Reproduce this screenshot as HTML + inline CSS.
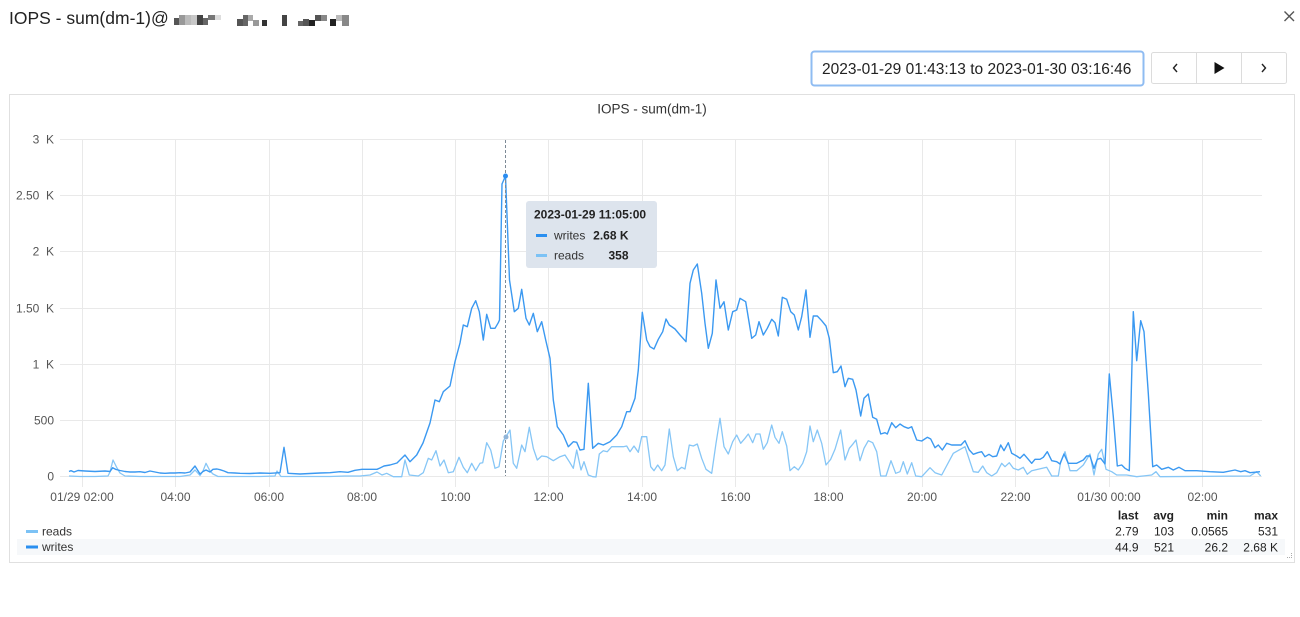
<!DOCTYPE html>
<html>
<head>
<meta charset="utf-8">
<style>
html,body{margin:0;padding:0;background:#fff;}
body{width:1300px;height:617px;overflow:hidden;position:relative;font-family:"Liberation Sans",Arial,sans-serif;}
svg{position:absolute;left:0;top:0;}
text{font-family:"Liberation Sans",Arial,sans-serif;}
</style>
</head>
<body>
<svg width="1300" height="617" viewBox="0 0 1300 617" xmlns="http://www.w3.org/2000/svg">
  <!-- header title -->
  <text x="9" y="24" font-size="17.5" fill="#222">IOPS - sum(dm-1)@</text>
  <!-- pixelated obfuscation blocks -->
  <g>
    <rect x="174" y="18" width="5" height="7" fill="#555"/>
    <rect x="179" y="15" width="6" height="10" fill="#999"/>
    <rect x="185" y="15" width="6" height="10" fill="#bbb"/>
    <rect x="191" y="15" width="6" height="10" fill="#c8c8c8"/>
    <rect x="197" y="15" width="6" height="10" fill="#444"/>
    <rect x="203" y="18" width="5" height="7" fill="#666"/>
    <rect x="208" y="15" width="7" height="5" fill="#777"/>
    <rect x="215" y="15" width="6" height="5" fill="#ddd"/>
    <rect x="237" y="19" width="6" height="7" fill="#555"/>
    <rect x="243" y="15" width="5" height="11" fill="#666"/>
    <rect x="248" y="15" width="5" height="6" fill="#aaa"/>
    <rect x="253" y="20" width="6" height="6" fill="#999"/>
    <rect x="262" y="20" width="5" height="6" fill="#333"/>
    <rect x="282" y="15" width="5" height="11" fill="#444"/>
    <rect x="298" y="21" width="5" height="5" fill="#666"/>
    <rect x="303" y="19" width="6" height="7" fill="#555"/>
    <rect x="309" y="20" width="6" height="6" fill="#222"/>
    <rect x="315" y="15" width="6" height="6" fill="#555"/>
    <rect x="321" y="15" width="6" height="6" fill="#888"/>
    <rect x="330" y="19" width="6" height="7" fill="#222"/>
    <rect x="336" y="15" width="6" height="6" fill="#bbb"/>
    <rect x="342" y="15" width="7" height="11" fill="#888"/>
  </g>
  <!-- close x -->
  <path d="M1284.5 11.5 L1294 21 M1294 11.5 L1284.5 21" stroke="#555" stroke-width="1.4"/>

  <!-- date input -->
  <rect x="811.5" y="51.5" width="332" height="34" rx="3" fill="#fff" stroke="#8fbcf2" stroke-width="2"/>
  <text x="822" y="74" font-size="15.5" fill="#222">2023-01-29 01:43:13 to 2023-01-30 03:16:46</text>
  <!-- buttons -->
  <rect x="1151.5" y="52.5" width="135" height="31" rx="2" fill="#fff" stroke="#dcdcdc"/>
  <line x1="1196.5" y1="52.5" x2="1196.5" y2="83.5" stroke="#dcdcdc"/>
  <line x1="1241.5" y1="52.5" x2="1241.5" y2="83.5" stroke="#dcdcdc"/>
  <path d="M1177 64 L1173.5 68 L1177 72" fill="none" stroke="#222" stroke-width="1.4"/>
  <path d="M1214.5 62 L1224.5 68 L1214.5 74 Z" fill="#111"/>
  <path d="M1262 64 L1265.5 68 L1262 72" fill="none" stroke="#222" stroke-width="1.4"/>

  <!-- panel -->
  <rect x="9.5" y="94.5" width="1285" height="468" fill="#fff" stroke="#e0e0e0"/>
  <text x="652" y="113.5" font-size="13.5" fill="#333" text-anchor="middle">IOPS - sum(dm-1)</text>

  <!-- grid -->
  <g stroke="#e9e9e9" stroke-width="1">
    <line x1="60" y1="139.5" x2="1262" y2="139.5"/>
    <line x1="60" y1="195.5" x2="1262" y2="195.5"/>
    <line x1="60" y1="251.5" x2="1262" y2="251.5"/>
    <line x1="60" y1="308.5" x2="1262" y2="308.5"/>
    <line x1="60" y1="364.5" x2="1262" y2="364.5"/>
    <line x1="60" y1="420.5" x2="1262" y2="420.5"/>
    <line x1="60" y1="476.5" x2="1262" y2="476.5"/>
    <line x1="82.5" y1="139" x2="82.5" y2="487"/>
    <line x1="175.5" y1="139" x2="175.5" y2="487"/>
    <line x1="269.5" y1="139" x2="269.5" y2="487"/>
    <line x1="362.5" y1="139" x2="362.5" y2="487"/>
    <line x1="455.5" y1="139" x2="455.5" y2="487"/>
    <line x1="548.5" y1="139" x2="548.5" y2="487"/>
    <line x1="642.5" y1="139" x2="642.5" y2="487"/>
    <line x1="735.5" y1="139" x2="735.5" y2="487"/>
    <line x1="828.5" y1="139" x2="828.5" y2="487"/>
    <line x1="922.5" y1="139" x2="922.5" y2="487"/>
    <line x1="1015.5" y1="139" x2="1015.5" y2="487"/>
    <line x1="1109.5" y1="139" x2="1109.5" y2="487"/>
    <line x1="1202.5" y1="139" x2="1202.5" y2="487"/>
  </g>

  <!-- y labels -->
  <g font-size="12" fill="#555" text-anchor="end">
    <text x="54" y="143.5">3&#160; K</text>
    <text x="54" y="199.5">2.50&#160; K</text>
    <text x="54" y="255.5">2&#160; K</text>
    <text x="54" y="312.5">1.50&#160; K</text>
    <text x="54" y="368.5">1&#160; K</text>
    <text x="54" y="424.5">500</text>
    <text x="54" y="480.5">0</text>
  </g>
  <!-- x labels -->
  <g font-size="12" fill="#555" text-anchor="middle">
    <text x="82" y="501">01/29 02:00</text>
    <text x="175.5" y="501">04:00</text>
    <text x="269" y="501">06:00</text>
    <text x="362" y="501">08:00</text>
    <text x="455.5" y="501">10:00</text>
    <text x="548.5" y="501">12:00</text>
    <text x="642" y="501">14:00</text>
    <text x="735.5" y="501">16:00</text>
    <text x="828.5" y="501">18:00</text>
    <text x="922" y="501">20:00</text>
    <text x="1015.5" y="501">22:00</text>
    <text x="1109" y="501">01/30 00:00</text>
    <text x="1202.5" y="501">02:00</text>
  </g>

  <!-- reads series -->
  <polyline fill="none" stroke="#86c6f6" stroke-width="1.3" stroke-linejoin="round" points="69,476 80,476.5 95,476.5 108,476 110,472 113,460 117,468 120,473 125,476 140,476.5 160,476.5 180,476.5 190,475 195,470 200,475.5 203,471 206,463.3 210,471 213,474 218,476.5 240,476.5 260,476.5 275,476 277,471 281,476.5 300,476.5 330,476.5 345,476 360,476 370,475 377,472 382,475 386.7,473.3 393.3,476.7 401.7,476.7 405,460 409.3,475 418.3,476 423.3,472.7 428.3,458.3 431.7,460 436,450.7 440,466 444,460 448.3,472.7 453.3,471.7 459,457.3 463.3,467.3 467.3,472.7 471.7,463.3 475.7,470.7 480,463.3 482.7,462.7 486.7,442.7 490.7,450 495,468.3 499,466.7 503.3,441 506,436.7 510,430 513.3,463.3 516.7,468.3 521.7,445 525,451.7 529.3,427.3 533.3,448.3 537.3,460 541.7,456 546.7,456.7 553.3,460.7 560,456.7 565,455 569.3,461.7 573.3,468.3 576.7,450 581,470 584,461.7 588.3,475 592.7,476.7 596,477 599.3,454 603.3,450.7 607.3,451.7 611.7,446.7 623.3,446.7 626.7,446 630,451.7 634,446 638.3,452.3 641.7,436.7 646.7,436.7 650.7,466.7 654,470.7 657.7,465 661.7,470.7 665,465 669.3,429 673.3,456.7 677.3,470.7 681.7,467.3 685,469 689.3,445 693.3,446 697.3,444 701.7,458.3 706,469.3 711.7,473.3 716,443.3 720,418.3 724,446.7 728.3,454 732.7,441.7 736.7,435 740.7,443.3 745,438.3 748.3,434 752.7,442.7 756,434 760,434 763.3,449.3 767.3,442.7 771.7,425 775,437.3 779,443.3 782.3,431.7 786.7,446 790,470.7 794.3,466.7 798.3,470 802.7,463.3 806.7,451.7 810,426 813.3,441.7 817.3,430 821.7,443.3 826,465 830.7,459.3 835,449.3 840.7,430 845,460 849.3,448.3 852.7,444.3 856,440 860,460.7 864,448.3 868.3,440.7 872.7,442.7 876.7,451.7 880.7,476 886,476 891,460.7 895.7,473.3 900,471.7 903.3,461.7 907.3,474 911.7,462.7 915.7,476 921.7,476.7 930,467.7 935,472.7 941.7,475 953.3,453.3 965,446.7 973.3,471.7 978.3,472.3 982.7,466 986.7,472.7 991.7,476 996.7,472.7 1001.7,463.3 1005,466.7 1009.3,462.7 1013.3,468.3 1018.3,470 1023.3,467.3 1027.3,474.3 1031.7,470.7 1046.7,467.3 1051.7,476 1058.3,476 1060.7,461.7 1065,451.7 1070,470.7 1076.7,470.7 1083.3,465 1090,454 1094,475 1098.3,454 1101.7,449.3 1106,469.3 1111.7,471.7 1116.7,475 1126.7,475 1136.7,476.7 1151.7,475 1156,471.7 1160,476.7 1250,476 1256.7,471.7 1260.7,476"/>

  <!-- writes series -->
  <polyline fill="none" stroke="#3b99f1" stroke-width="1.4" stroke-linejoin="round" points="69,471.5 71,470.7 74,472 78,470.5 85,471 95,471.5 105,471 110,471.5 112.7,467.7 116,469.5 120,470.5 125,471.5 130,472 135,472 140,471.7 145,472.5 150,471 155,472 160,473 165,473.3 170,473 175,473 180,472.7 185,473 190,472 195,466 200,474 203,471.5 206,470 210,472 213,469.3 217,469 220,469.7 224,471 228,472.7 235,473 240,473.3 250,473.5 260,473 270,473.3 280,472.7 284,447.3 288,473.3 300,474 310,473.5 320,473 330,472.7 340,471.7 348,472.3 355,470.3 362,469.3 370,469.3 377,469.3 380,468 384,466 390,465 397,463 405,455 410,461.7 416.7,455 423,443 430,423 435,400 439.3,401.7 443.3,391.7 450,386 455,361.7 460,343 463.3,325 467.3,326.7 471.7,308.3 475.7,300.7 479.3,311.7 483.3,340 486.7,314.3 490.7,328.3 495,328.3 498.3,322.7 499.5,320 502,184 505.5,176 509.5,280 514.3,311.7 518.3,308.3 521.7,289.3 526,318.3 529.3,325 533.3,313.3 537.3,331.7 541.7,321.7 545.7,340 550,358.3 553.3,400 557.3,426.7 563.3,435 568.3,446.7 573.3,441.7 576.7,442.3 580,450 584,449.3 588.3,383.3 592.7,448.3 598.3,443.3 603.3,445 610,441.7 616.7,435 621.7,426.7 626.7,411.7 630,411.7 635,398.3 638.3,370 642.3,312.3 646.7,340 650,346.7 654,349 658.3,339.3 662.7,331.7 666,319 669.3,325 675,329 680,335 686,341.7 690,283.3 693.3,270 697.3,264 701.7,293.3 705,323.3 708.3,348.3 712.3,333.3 716,280 720,308.3 724,301.7 728.3,330 732.7,311.7 736.7,310 740,298.3 745.7,301.7 751.7,338.3 755.7,335 759,321.7 763.3,335 767.3,328.3 771.7,319.3 775,322.7 778.3,336 782.3,297.3 786.7,299.3 790.7,311.7 794.3,315 798.3,330 801.7,316.7 806,290 810,337.3 813.3,316 817.3,316 821.7,320.7 826,326 829.3,338.3 833.3,372.7 837.3,371.7 841,366 845,386.7 848.3,378.3 852.7,379.3 856,390 860.7,416 864,398.3 868.3,394 872.7,417.3 876.7,419.3 880.7,434 885,432.7 887.3,434 891.7,422.7 895.7,427.7 900,424 904,426.7 908.3,428.3 911.7,426.7 916.7,440 921.7,441 927.3,437.3 930.7,439 935,447.7 938.3,445 942.3,450 946.7,443.3 951.7,445 956.7,445 961,445 965,440.7 969.3,450 973.3,454.3 977.7,452.7 981.7,451.7 985,456.7 989,454.3 992.7,456.7 996.7,456 1000.7,445 1004,450.7 1008.3,442.7 1011.7,453.3 1016.7,456 1020,458.3 1024,454.3 1028.3,459.3 1031.7,463.3 1035,459.3 1040,459.3 1043.3,457.3 1047.3,451.7 1051.7,460.7 1056.7,461.7 1060,464 1064,454 1068.3,463.3 1076.7,463.3 1083.3,460 1086.7,456 1090,456 1094,468.3 1097.3,459.3 1100.7,458.3 1105,464 1109.3,374 1113.3,416.7 1117.3,466 1121.7,465 1125,468.3 1129.3,470.7 1133.3,311.7 1136.7,360.7 1140.7,320.7 1144,331.7 1148.3,393.3 1152.7,466.7 1156.7,465 1161.7,469.3 1168.3,467.3 1173.3,470 1179,467.3 1185,470.7 1196.7,470.7 1210,471.7 1223.3,472.3 1235,470 1240.7,471.7 1245,470.7 1250,472.7 1260,471.7"/>

  <!-- crosshair -->
  <line x1="505.5" y1="140" x2="505.5" y2="476" stroke="#7d8a96" stroke-width="1" stroke-dasharray="3,2"/>
  <circle cx="505.5" cy="176" r="2.5" fill="#2a8cf0"/>
  <circle cx="506" cy="437" r="2.5" fill="#8fb4d8"/>

  <!-- tooltip -->
  <rect x="526" y="201" width="131" height="67" rx="3" fill="#dde4ed"/>
  <text x="534" y="218.5" font-size="12" font-weight="bold" fill="#222">2023-01-29 11:05:00</text>
  <line x1="536" y1="235.5" x2="547" y2="235.5" stroke="#2a8ff0" stroke-width="3"/>
  <text x="554" y="239.5" font-size="12" fill="#333">writes</text>
  <text x="628.5" y="239.5" font-size="12" font-weight="bold" fill="#222" text-anchor="end">2.68 K</text>
  <line x1="536" y1="255.5" x2="547" y2="255.5" stroke="#7cc2f5" stroke-width="3"/>
  <text x="554" y="259.5" font-size="12" fill="#333">reads</text>
  <text x="628.5" y="259.5" font-size="12" font-weight="bold" fill="#222" text-anchor="end">358</text>

  <!-- legend -->
  <rect x="17" y="539" width="1268" height="16" fill="#f6f8fa"/>
  <line x1="26" y1="531.5" x2="38" y2="531.5" stroke="#7cc2f5" stroke-width="3"/>
  <text x="42" y="535.5" font-size="12" fill="#333">reads</text>
  <line x1="26" y1="547" x2="38" y2="547" stroke="#2a8ff0" stroke-width="3"/>
  <text x="42" y="551" font-size="12" fill="#333">writes</text>

  <g font-size="12" fill="#222" text-anchor="end">
    <text x="1138.5" y="519.5" font-weight="bold">last</text>
    <text x="1174" y="519.5" font-weight="bold">avg</text>
    <text x="1228" y="519.5" font-weight="bold">min</text>
    <text x="1278" y="519.5" font-weight="bold">max</text>
    <text x="1138.5" y="535.5">2.79</text>
    <text x="1174" y="535.5">103</text>
    <text x="1228" y="535.5">0.0565</text>
    <text x="1278" y="535.5">531</text>
    <text x="1138.5" y="551.5">44.9</text>
    <text x="1174" y="551.5">521</text>
    <text x="1228" y="551.5">26.2</text>
    <text x="1278" y="551.5">2.68 K</text>
  </g>
  <!-- resize handle -->
  <g fill="#aaa">
    <rect x="1289" y="557" width="1" height="1"/>
    <rect x="1291" y="555" width="1" height="1"/>
    <rect x="1291" y="557" width="1" height="1"/>
    <rect x="1287" y="557" width="1" height="1"/>
    <rect x="1291" y="553" width="1" height="1"/>
  </g>
</svg>
</body>
</html>
